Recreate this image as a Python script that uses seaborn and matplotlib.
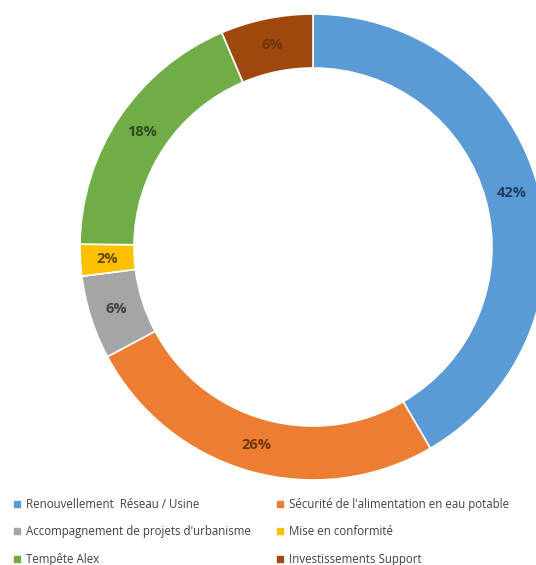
import matplotlib
matplotlib.use("Agg")
import matplotlib.pyplot as plt
from matplotlib.lines import Line2D
import numpy as np
import seaborn as sns

categories = ["Renouvellement  Réseau / Usine", "Sécurité de l'alimentation en eau potable",
              "Accompagnement de projets d'urbanisme", "Mise en conformité",
              "Tempête Alex", "Investissements Support"]
values = [41.6, 25.6, 5.8, 2.2, 18.4, 6.4]
labels = ["42%", "26%", "6%", "2%", "18%", "6%"]
colors = ["#5B9BD5", "#ED7D31", "#A5A5A5", "#FFC000", "#70AD47", "#9E480E"]
label_colors = ["#1F3B5C", "#6B3510", "#3F3F3F", "#5E4700", "#2D4A1E", "#6E3208"]

sns.set_theme(style="white")
plt.rcParams['font.family'] = ['Open Sans', 'DejaVu Sans']

fig = plt.figure(figsize=(5.36, 5.65), dpi=100)
W, H = 536, 565
cx, cy, r = 313, 247, 233
ax = fig.add_axes([(cx - r) / W, 1 - (cy + r) / H, 2 * r / W, 2 * r / H])

inner = 179 / 233
wedges, _ = ax.pie(values, colors=colors, startangle=90, counterclock=False,
                   radius=1, wedgeprops=dict(width=1 - inner, edgecolor="white", linewidth=1.2))
ax.set_xlim(-1, 1)
ax.set_ylim(-1, 1)
for w in wedges:
    w.set_clip_on(False)

rmid = (1 + inner) / 2
for w, lab, lc in zip(wedges, labels, label_colors):
    ang = np.deg2rad((w.theta1 + w.theta2) / 2)
    ax.text(rmid * np.cos(ang), rmid * np.sin(ang), lab, ha="center", va="center",
            fontsize=10.5, fontweight="bold", color=lc)

order = [0, 2, 4, 1, 3, 5]
handles = [Line2D([], [], marker="s", linestyle="", markersize=5,
                  markerfacecolor=colors[i], markeredgecolor=colors[i]) for i in order]
leg = fig.legend(handles, [categories[i] for i in order], ncol=2, loc="upper left",
                 bbox_to_anchor=(8 / W, 1 - 492 / H), frameon=False, fontsize=8.3,
                 handlelength=0.6, handletextpad=0.5, columnspacing=2.2,
                 labelspacing=1.25, borderpad=0)
for t in leg.get_texts():
    t.set_color("#404040")

fig.savefig("out.png", dpi=100)
